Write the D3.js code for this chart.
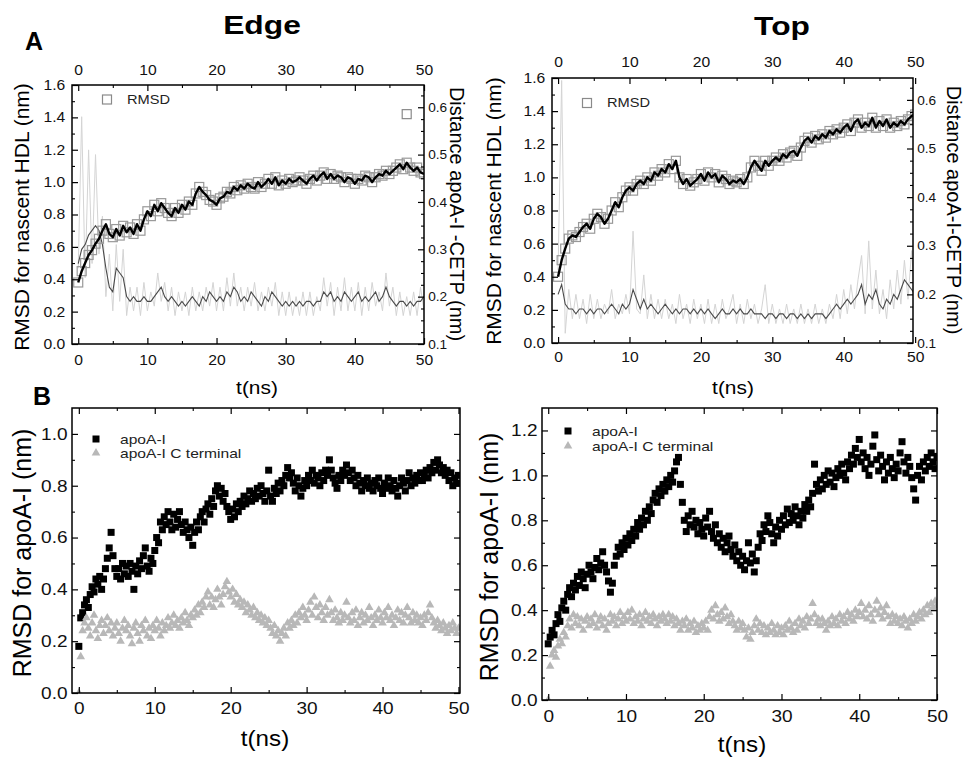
<!DOCTYPE html>
<html><head><meta charset="utf-8">
<script src="https://cdn.jsdelivr.net/npm/d3@7"></script>
<style>body{margin:0;background:#fff}svg{display:block}</style>
</head><body><svg id="c" width="964" height="759"></svg>
<script>
// ---------------- DATA ----------------
const STEP_A = 0.5;   // ns between samples, panels A
const STEP_B = 0.25;  // ns between samples, panels B
const xTicks = [0, 10, 20, 30, 40, 50];
const xMinor = [5, 15, 25, 35, 45];
const yTicksA = [0, 0.2, 0.4, 0.6, 0.8, 1.0, 1.2, 1.4, 1.6];
const yMinorA = [0.1, 0.3, 0.5, 0.7, 0.9, 1.1, 1.3, 1.5];
const y2TicksA = [0.1, 0.2, 0.3, 0.4, 0.5, 0.6];
const y2MinorA = [0.125,0.15,0.175,0.225,0.25,0.275,0.325,0.35,0.375,0.425,0.45,0.475,0.525,0.55,0.575,0.625];
const yTicksBEdge = [0, 0.2, 0.4, 0.6, 0.8, 1.0];
const yMinorBEdge = [0.1, 0.3, 0.5, 0.7, 0.9];
const yTicksBTop = [0, 0.2, 0.4, 0.6, 0.8, 1.0, 1.2];
const yMinorBTop = [0.1, 0.3, 0.5, 0.7, 0.9, 1.1];

// Panel A, Edge: RMSD for nascent HDL (nm)
const edgeRmsd = [
0.38,0.45,0.50,0.55,0.58,0.62,0.65,0.70,0.74,0.68,
0.66,0.71,0.67,0.73,0.69,0.72,0.68,0.74,0.70,0.77,
0.82,0.79,0.86,0.82,0.87,0.84,0.81,0.79,0.84,0.81,
0.86,0.83,0.88,0.86,0.93,0.97,0.94,0.92,0.89,0.88,
0.86,0.90,0.91,0.94,0.93,0.97,0.95,0.98,0.96,0.99,
0.97,0.96,1.00,0.97,0.99,1.02,0.99,1.03,0.98,1.01,
0.99,1.02,1.00,1.01,1.03,1.01,0.99,1.02,1.04,1.01,
1.04,1.06,1.02,1.05,1.02,1.04,1.03,1.00,1.03,1.02,
0.99,1.02,1.01,1.04,1.03,1.00,1.03,1.05,1.04,1.07,
1.05,1.07,1.09,1.11,1.08,1.12,1.09,1.07,1.09,1.06,
1.05];
// Panel A, Edge: distance apoA-I - CETP (nm), averaged and raw
const edgeDist = [
0.27,0.30,0.31,0.33,0.34,0.35,0.34,0.31,0.26,0.22,
0.21,0.26,0.25,0.24,0.20,0.19,0.20,0.19,0.19,0.20,
0.19,0.19,0.20,0.21,0.22,0.20,0.19,0.20,0.19,0.18,
0.19,0.18,0.19,0.20,0.19,0.18,0.20,0.19,0.21,0.20,
0.19,0.20,0.19,0.21,0.20,0.22,0.21,0.19,0.20,0.19,
0.21,0.20,0.19,0.18,0.20,0.19,0.21,0.20,0.19,0.18,
0.19,0.18,0.19,0.18,0.19,0.18,0.19,0.19,0.18,0.19,
0.19,0.21,0.20,0.21,0.19,0.20,0.19,0.21,0.20,0.19,
0.20,0.21,0.19,0.20,0.19,0.20,0.21,0.19,0.20,0.22,
0.20,0.19,0.18,0.19,0.19,0.18,0.19,0.18,0.19,0.19,
0.20];
const edgeDistRaw = [
0.26,0.58,0.24,0.51,0.27,0.50,0.29,0.37,0.20,0.29,
0.17,0.31,0.19,0.30,0.16,0.22,0.17,0.22,0.16,0.23,
0.17,0.21,0.18,0.25,0.19,0.23,0.17,0.22,0.16,0.21,
0.17,0.21,0.16,0.22,0.17,0.21,0.17,0.22,0.18,0.23,
0.17,0.22,0.17,0.24,0.18,0.25,0.18,0.22,0.17,0.22,
0.18,0.23,0.17,0.21,0.17,0.22,0.18,0.23,0.16,0.21,
0.16,0.21,0.16,0.20,0.16,0.21,0.16,0.21,0.16,0.20,
0.17,0.24,0.18,0.23,0.16,0.22,0.17,0.24,0.17,0.22,
0.17,0.23,0.16,0.22,0.17,0.23,0.18,0.21,0.17,0.25,
0.18,0.22,0.16,0.21,0.16,0.20,0.16,0.21,0.16,0.22,
0.17];
const edgeExtraT = [47.5];
const edgeExtraV = [1.42];

// Panel A, Top
const topRmsd = [
0.40,0.50,0.57,0.63,0.65,0.64,0.67,0.70,0.72,0.69,
0.75,0.78,0.76,0.72,0.75,0.80,0.85,0.82,0.88,0.92,
0.94,0.92,0.96,0.98,0.96,1.00,0.98,1.03,1.01,1.05,
1.03,1.08,1.05,1.10,1.00,0.96,0.99,0.95,0.97,0.99,
1.02,0.98,1.03,1.00,1.02,0.97,1.01,0.99,0.96,0.98,
0.97,0.99,0.96,1.00,1.06,1.10,1.07,1.04,1.10,1.07,
1.10,1.12,1.10,1.14,1.12,1.15,1.16,1.13,1.18,1.22,
1.24,1.21,1.25,1.23,1.26,1.24,1.28,1.26,1.29,1.27,
1.30,1.32,1.28,1.33,1.35,1.30,1.33,1.31,1.36,1.30,
1.34,1.31,1.35,1.30,1.33,1.31,1.34,1.32,1.35,1.37,
1.38];
const topDist = [
0.20,0.22,0.18,0.17,0.17,0.16,0.17,0.17,0.16,0.17,
0.16,0.17,0.17,0.16,0.17,0.18,0.17,0.16,0.18,0.17,
0.18,0.21,0.19,0.17,0.19,0.17,0.18,0.17,0.16,0.17,
0.18,0.17,0.16,0.17,0.16,0.17,0.17,0.16,0.17,0.16,
0.17,0.16,0.17,0.16,0.15,0.16,0.17,0.16,0.16,0.17,
0.16,0.17,0.16,0.16,0.17,0.16,0.16,0.16,0.15,0.16,
0.16,0.15,0.16,0.16,0.15,0.16,0.16,0.15,0.16,0.15,
0.16,0.15,0.16,0.16,0.16,0.15,0.16,0.17,0.18,0.17,
0.18,0.19,0.18,0.19,0.20,0.22,0.18,0.20,0.19,0.21,
0.18,0.17,0.19,0.18,0.20,0.19,0.21,0.23,0.22,0.21,
0.20];
const topDistRaw = [
0.25,0.64,0.12,0.21,0.15,0.20,0.15,0.19,0.14,0.20,
0.15,0.19,0.15,0.18,0.16,0.21,0.15,0.18,0.16,0.20,
0.16,0.33,0.17,0.16,0.24,0.15,0.20,0.15,0.19,0.15,
0.19,0.15,0.18,0.14,0.20,0.15,0.18,0.14,0.19,0.15,
0.18,0.14,0.19,0.14,0.18,0.14,0.19,0.15,0.17,0.20,
0.14,0.18,0.14,0.19,0.15,0.18,0.14,0.17,0.22,0.14,
0.18,0.14,0.17,0.14,0.18,0.14,0.17,0.14,0.18,0.14,
0.17,0.14,0.18,0.14,0.17,0.14,0.18,0.15,0.20,0.15,
0.21,0.16,0.22,0.17,0.23,0.28,0.16,0.31,0.17,0.25,
0.16,0.21,0.15,0.23,0.17,0.25,0.18,0.27,0.19,0.29,
0.18];

// Panel B, Edge: RMSD for apoA-I (nm)
const edgeApoA = [
0.18,0.29,0.31,0.34,0.36,0.33,0.38,0.41,0.39,0.44,0.42,0.45,0.40,0.44,0.48,0.52,0.56,0.62,0.53,0.48,
0.45,0.48,0.44,0.50,0.46,0.49,0.45,0.50,0.47,0.40,0.49,0.46,0.51,0.48,0.53,0.56,0.49,0.47,0.52,0.50,
0.55,0.60,0.58,0.66,0.63,0.68,0.65,0.70,0.66,0.63,0.69,0.64,0.67,0.70,0.65,0.62,0.66,0.63,0.60,0.64,
0.57,0.62,0.66,0.63,0.68,0.70,0.66,0.71,0.73,0.69,0.75,0.72,0.78,0.80,0.76,0.79,0.74,0.77,0.72,0.70,
0.67,0.71,0.68,0.73,0.70,0.74,0.72,0.76,0.73,0.75,0.78,0.74,0.77,0.75,0.79,0.76,0.80,0.77,0.74,0.78,
0.86,0.76,0.74,0.79,0.77,0.81,0.78,0.82,0.80,0.84,0.87,0.83,0.85,0.81,0.78,0.83,0.80,0.76,0.79,0.82,
0.80,0.84,0.82,0.86,0.81,0.84,0.83,0.80,0.85,0.82,0.86,0.84,0.90,0.86,0.83,0.81,0.79,0.84,0.82,0.86,
0.84,0.88,0.85,0.82,0.86,0.83,0.80,0.84,0.81,0.78,0.82,0.80,0.83,0.79,0.81,0.78,0.82,0.80,0.83,0.79,
0.77,0.81,0.79,0.83,0.80,0.78,0.82,0.79,0.76,0.80,0.83,0.81,0.78,0.82,0.85,0.80,0.83,0.81,0.84,0.82,
0.85,0.82,0.84,0.86,0.83,0.87,0.85,0.89,0.86,0.90,0.88,0.85,0.87,0.84,0.86,0.82,0.85,0.80,0.83,0.81,
0.84];
const edgeCterm = [
0.00,0.14,0.24,0.27,0.29,0.25,0.22,0.27,0.30,0.24,0.21,0.26,0.28,0.23,0.26,0.29,0.24,0.27,0.22,0.25,
0.27,0.23,0.20,0.25,0.28,0.24,0.26,0.22,0.19,0.25,0.27,0.23,0.20,0.26,0.24,0.28,0.22,0.25,0.21,0.26,
0.24,0.28,0.25,0.22,0.27,0.24,0.26,0.29,0.25,0.27,0.30,0.26,0.28,0.25,0.29,0.27,0.31,0.28,0.26,0.30,
0.29,0.32,0.30,0.34,0.31,0.35,0.33,0.37,0.39,0.34,0.37,0.33,0.36,0.40,0.37,0.34,0.38,0.41,0.43,0.39,
0.37,0.40,0.35,0.38,0.34,0.36,0.33,0.35,0.31,0.34,0.32,0.30,0.33,0.29,0.31,0.28,0.30,0.27,0.29,0.26,
0.28,0.25,0.23,0.26,0.22,0.24,0.20,0.23,0.25,0.22,0.27,0.25,0.28,0.26,0.30,0.27,0.31,0.29,0.33,0.30,
0.28,0.32,0.35,0.30,0.37,0.33,0.29,0.34,0.31,0.28,0.33,0.30,0.36,0.31,0.28,0.32,0.29,0.27,0.31,0.28,
0.30,0.35,0.29,0.27,0.31,0.28,0.32,0.26,0.29,0.31,0.27,0.30,0.28,0.33,0.29,0.26,0.30,0.28,0.32,0.29,
0.27,0.31,0.29,0.33,0.28,0.30,0.26,0.29,0.32,0.28,0.31,0.27,0.30,0.33,0.29,0.27,0.31,0.28,0.30,0.27,
0.29,0.26,0.30,0.28,0.31,0.34,0.29,0.27,0.25,0.28,0.26,0.24,0.27,0.25,0.23,0.26,0.24,0.27,0.25,0.23,
0.25];

// Panel B, Top
const topApoA = [
0.25,0.28,0.31,0.29,0.34,0.38,0.35,0.41,0.44,0.40,0.47,0.50,0.46,0.52,0.49,0.55,0.51,0.57,0.54,0.50,
0.56,0.60,0.57,0.54,0.59,0.63,0.58,0.61,0.66,0.60,0.57,0.53,0.48,0.52,0.60,0.64,0.68,0.65,0.70,0.67,
0.72,0.69,0.74,0.71,0.76,0.73,0.79,0.76,0.81,0.78,0.84,0.80,0.86,0.83,0.89,0.92,0.88,0.94,0.91,0.96,
0.93,0.98,0.95,1.00,0.97,1.02,1.06,1.08,0.96,0.88,0.80,0.75,0.82,0.78,0.84,0.77,0.80,0.74,0.79,0.76,
0.73,0.81,0.77,0.84,0.75,0.72,0.78,0.70,0.74,0.68,0.72,0.66,0.70,0.73,0.67,0.64,0.69,0.62,0.66,0.60,
0.64,0.58,0.62,0.70,0.61,0.65,0.57,0.62,0.68,0.74,0.71,0.78,0.75,0.82,0.79,0.74,0.70,0.77,0.73,0.80,
0.76,0.82,0.78,0.85,0.79,0.83,0.80,0.86,0.82,0.78,0.84,0.81,0.87,0.84,0.89,0.86,0.92,1.05,0.96,0.93,
0.98,0.94,1.00,0.96,1.02,0.97,1.01,0.95,0.99,1.03,1.00,1.05,1.01,0.98,1.06,1.03,1.09,1.05,1.12,1.08,
1.16,1.06,1.10,1.03,1.08,1.00,1.05,1.13,1.18,1.07,1.02,1.09,1.04,0.98,1.06,1.01,1.08,1.03,0.99,1.05,
1.02,1.10,1.15,1.06,1.01,1.08,1.04,0.99,0.94,0.89,1.00,1.04,0.98,1.06,1.02,1.08,1.04,1.10,1.06,1.03,
1.08];
const topCterm = [
0.00,0.15,0.20,0.22,0.19,0.24,0.27,0.25,0.30,0.28,0.33,0.36,0.32,0.38,0.34,0.37,0.33,0.36,0.31,0.35,
0.37,0.33,0.36,0.34,0.38,0.32,0.35,0.37,0.33,0.36,0.31,0.34,0.38,0.35,0.37,0.33,0.36,0.39,0.34,0.37,
0.35,0.39,0.36,0.40,0.34,0.37,0.35,0.38,0.33,0.36,0.39,0.35,0.37,0.34,0.38,0.36,0.33,0.37,0.35,0.38,
0.36,0.34,0.38,0.35,0.37,0.33,0.36,0.34,0.31,0.35,0.33,0.36,0.31,0.34,0.32,0.35,0.30,0.33,0.31,0.34,
0.32,0.35,0.31,0.37,0.40,0.36,0.42,0.38,0.35,0.39,0.36,0.41,0.37,0.34,0.38,0.35,0.33,0.31,0.35,0.32,
0.34,0.31,0.28,0.32,0.27,0.30,0.33,0.36,0.31,0.34,0.30,0.33,0.29,0.32,0.30,0.34,0.31,0.29,0.33,0.30,
0.32,0.29,0.33,0.31,0.35,0.32,0.30,0.34,0.31,0.36,0.33,0.35,0.32,0.37,0.34,0.36,0.43,0.38,0.34,0.36,
0.33,0.36,0.34,0.31,0.35,0.33,0.37,0.34,0.36,0.33,0.38,0.35,0.37,0.34,0.39,0.36,0.38,0.35,0.40,0.37,
0.39,0.43,0.37,0.40,0.36,0.42,0.38,0.35,0.40,0.44,0.38,0.41,0.36,0.39,0.42,0.37,0.34,0.38,0.35,0.37,
0.34,0.36,0.33,0.37,0.35,0.32,0.36,0.34,0.38,0.35,0.37,0.39,0.36,0.40,0.38,0.42,0.39,0.43,0.41,0.44,
0.42];

// ---------------- DRAWING ----------------
const FONT = '"Liberation Sans", Arial, Helvetica, sans-serif';
const svg = d3.select("#c");
const defs = svg.append("defs");

function stretchedText(g, str, x, y, size, sx, opts = {}) {
  return g.append("text")
    .attr("transform", `translate(${x},${y}) scale(${sx},1)`)
    .attr("font-family", FONT).attr("font-size", size)
    .attr("font-weight", opts.bold ? "bold" : "normal")
    .attr("text-anchor", opts.anchor || "start")
    .attr("fill", opts.fill || "#000")
    .text(str);
}
function rotText(g, str, x, y, size, angle) {
  return g.append("text")
    .attr("transform", `translate(${x},${y}) rotate(${angle})`)
    .attr("font-family", FONT).attr("font-size", size)
    .attr("text-anchor", "middle").attr("dy", "0.35em")
    .attr("fill", "#000").text(str);
}

function addAxis(g, axisFn, scale, pos, major, minor, fmt, show, pad, fs, sx) {
  const a = g.append("g").attr("transform", pos)
    .call(axisFn(scale).tickValues(major).tickSize(-6).tickPadding(pad)
      .tickFormat(show ? fmt : () => ""));
  a.select(".domain").remove();
  a.selectAll("line").attr("stroke", "#000").attr("stroke-width", 1.2);
  a.selectAll("text").attr("font-size", fs).attr("font-family", FONT)
    .attr("fill", "#111").attr("transform", `scale(${sx},1)`);
  const m = g.append("g").attr("transform", pos)
    .call(axisFn(scale).tickValues(minor).tickSize(-3).tickFormat(() => ""));
  m.select(".domain").remove();
  m.selectAll("line").attr("stroke", "#000").attr("stroke-width", 1.1);
}

function panel(o) {
  const g = svg.append("g");
  const x = d3.scaleLinear().domain(o.xDom).range([o.L, o.R]);
  const y = d3.scaleLinear().domain(o.yDom).range([o.B, o.T]);
  const y2 = o.y2Dom ? d3.scaleLinear().domain(o.y2Dom).range([o.B, o.T]) : y;
  defs.append("clipPath").attr("id", "clip" + o.id).append("rect")
    .attr("x", o.L).attr("y", o.T).attr("width", o.R - o.L).attr("height", o.B - o.T);
  const p = g.append("g").attr("clip-path", `url(#clip${o.id})`);
  o.draw(p, x, y, y2);
  g.append("rect").attr("x", o.L).attr("y", o.T).attr("width", o.R - o.L).attr("height", o.B - o.T)
    .attr("fill", "none").attr("stroke", "#000").attr("stroke-width", 1.5);
  const f1 = d3.format(".1f"), fd = d3.format("d");
  addAxis(g, d3.axisBottom, x, `translate(0,${o.B})`, xTicks, xMinor, fd, true, o.padB, o.fs, o.sx);
  addAxis(g, d3.axisTop, x, `translate(0,${o.T})`, xTicks, xMinor, fd, o.topLabels, o.padT || 10, o.fs, o.sx);
  addAxis(g, d3.axisLeft, y, `translate(${o.L},0)`, o.yTicks, o.yMinor, f1, true, o.padL, o.fs, o.sx);
  if (o.y2Dom) addAxis(g, d3.axisRight, y2, `translate(${o.R},0)`, y2TicksA, y2MinorA, f1, true, 4, o.fs2, 1.05);
  else addAxis(g, d3.axisRight, y, `translate(${o.R},0)`, o.yTicks, o.yMinor, f1, false, 5, o.fs, o.sx);
  return g;
}

function drawA(rmsd, dist, distRaw, extraT, extraV) {
  return (p, x, y, y2) => {
    const lx = (d, i) => x(i * STEP_A);
    p.append("path").datum(distRaw).attr("fill", "none").attr("stroke", "#d4d4d4").attr("stroke-width", 1)
      .attr("d", d3.line().x(lx).y(d => y2(d)));
    p.append("path").datum(dist).attr("fill", "none").attr("stroke", "#4a4a4a").attr("stroke-width", 1.1)
      .attr("d", d3.line().x(lx).y(d => y2(d)));
    p.selectAll("rect.sq").data(rmsd).join("rect").attr("class", "sq")
      .attr("x", (d, i) => x(i * STEP_A) - 4.5).attr("y", d => y(d) - 4.5)
      .attr("width", 9).attr("height", 9).attr("fill", "none").attr("stroke", "#999").attr("stroke-width", 1.2);
    p.append("path").datum(rmsd).attr("fill", "none").attr("stroke", "#000").attr("stroke-width", 2.4)
      .attr("stroke-linejoin", "round")
      .attr("d", d3.line().x(lx).y(d => y(d)));
    if (extraT) p.selectAll("rect.ex").data(extraT).join("rect").attr("class", "ex")
      .attr("x", d => x(d) - 4.5).attr("y", (d, i) => y(extraV[i]) - 4.5)
      .attr("width", 9).attr("height", 9).attr("fill", "none").attr("stroke", "#8a8a8a").attr("stroke-width", 1.2);
  };
}
function drawB(apo, cterm) {
  return (p, x, y) => {
    p.selectAll("rect.pt").data(apo).join("rect").attr("class", "pt")
      .attr("x", (d, i) => x(i * STEP_B) - 3.5).attr("y", d => y(d) - 3.5)
      .attr("width", 7).attr("height", 7).attr("fill", "#000");
    const tri = d3.symbol().type(d3.symbolTriangle).size(32);
    p.selectAll("path.tr").data(cterm).join("path").attr("class", "tr")
      .attr("transform", (d, i) => `translate(${x(i * STEP_B)},${y(d)})`)
      .attr("d", tri).attr("fill", "#b8b8b8");
  };
}

// A Edge
panel({ id: "AE", L: 72, R: 424, T: 85, B: 344, xDom: [-0.9, 50], yDom: [0, 1.6], y2Dom: [0.1, 0.647],
  yTicks: yTicksA, yMinor: yMinorA, topLabels: true, padB: 11, padT: 10, padL: 6, fs: 14, fs2: 13, sx: 1.12,
  draw: drawA(edgeRmsd, edgeDist, edgeDistRaw, edgeExtraT, edgeExtraV) });
// A Top
panel({ id: "AT", L: 552, R: 913, T: 78, B: 343, xDom: [-0.85, 49.7], yDom: [0, 1.6], y2Dom: [0.1, 0.645],
  yTicks: yTicksA, yMinor: yMinorA, topLabels: true, padB: 9, padT: 11, padL: 6, fs: 14, fs2: 13, sx: 1.12,
  draw: drawA(topRmsd, topDist, topDistRaw) });
// B Edge
panel({ id: "BE", L: 72, R: 460, T: 408, B: 693, xDom: [-0.9, 50.2], yDom: [0, 1.1],
  yTicks: yTicksBEdge, yMinor: yMinorBEdge, topLabels: false, padB: 9, padL: 4, fs: 17, sx: 1.12,
  draw: drawB(edgeApoA, edgeCterm) });
// B Top
panel({ id: "BT", L: 542, R: 937, T: 408, B: 700, xDom: [-0.8, 50], yDom: [0, 1.3],
  yTicks: yTicksBTop, yMinor: yMinorBTop, topLabels: false, padB: 10, padL: 4, fs: 17, sx: 1.12,
  draw: drawB(topApoA, topCterm) });

// Titles and panel letters
stretchedText(svg, "Edge", 262, 34, 25, 1.27, { bold: true, anchor: "middle" });
stretchedText(svg, "Top", 782, 35, 25, 1.27, { bold: true, anchor: "middle" });
stretchedText(svg, "A", 25, 50, 25, 1.0, { bold: true });
stretchedText(svg, "B", 33, 405, 25, 1.0, { bold: true });

// Axis titles
rotText(svg, "RMSD for nascent HDL (nm)", 22, 217, 21, -90);
rotText(svg, "RMSD for nascent HDL (nm)", 494, 211, 21, -90);
rotText(svg, "Distance apoA-I -CETP (nm)", 457, 214, 20, 90);
rotText(svg, "Distance apoA-I-CETP (nm)", 954, 210, 20, 90);
rotText(svg, "RMSD for apoA-I (nm)", 22, 553, 25, -90);
rotText(svg, "RMSD for apoA-I (nm)", 489, 557, 25, -90);
stretchedText(svg, "t(ns)", 257, 394, 19, 1.1, { anchor: "middle" });
stretchedText(svg, "t(ns)", 733, 394, 19, 1.1, { anchor: "middle" });
stretchedText(svg, "t(ns)", 265, 746, 22, 1.1, { anchor: "middle" });
stretchedText(svg, "t(ns)", 742, 752, 22, 1.1, { anchor: "middle" });

// Legends A
[[107, 99.5, 127, 104], [587, 103, 607, 107]].forEach(([sx, sy, tx, ty]) => {
  svg.append("rect").attr("x", sx - 4.5).attr("y", sy - 4.5).attr("width", 9).attr("height", 9)
    .attr("fill", "none").attr("stroke", "#8a8a8a").attr("stroke-width", 1.2);
  stretchedText(svg, "RMSD", tx, ty, 12.5, 1.17, { fill: "#222" });
});
// Legends B
[[96, 439, 453, 120], [568, 431, 446, 592]].forEach(([lx, y1, y2, tx]) => {
  svg.append("rect").attr("x", lx - 3.5).attr("y", y1 - 3.5).attr("width", 7).attr("height", 7).attr("fill", "#000");
  svg.append("path").attr("transform", `translate(${lx},${y2})`)
    .attr("d", d3.symbol().type(d3.symbolTriangle).size(32)).attr("fill", "#b8b8b8");
  stretchedText(svg, "apoA-I", tx, y1 + 4.5, 12, 1.3, { fill: "#222" });
  stretchedText(svg, "apoA-I C terminal", tx, y2 + 4.5, 12, 1.3, { fill: "#222" });
});
</script></body></html>
